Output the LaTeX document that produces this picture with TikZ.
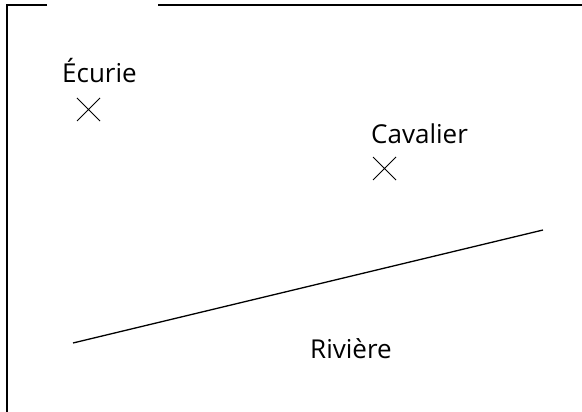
\documentclass[tikz,border=0pt]{standalone}
\usepackage{fontspec}
\setmainfont{Open Sans}
\usetikzlibrary{shapes.misc}
\begin{document}
\begin{tikzpicture}[%%
  x=1pt,y=-1pt,%%
  frameStyle/.style={-,line width=1.4pt},%%
  lineStyle/.style={-,line width=1.3pt},%%
  crossStyle/.style={cross out,draw,line width=1pt,minimum size=22pt,inner sep=0pt},%%
  labelStyle/.style={font=\fontsize{26}{30}\selectfont,inner sep=0pt,anchor=base west},%%
]
%%
%%
\useasboundingbox (0,0) rectangle (582,412);
%% The frame, open on top.
\coordinate (cornerNW) at (7,5);
\coordinate (cornerSW) at (7,412);
\coordinate (gapW) at (47,5);
\coordinate (gapE) at (158,5);
\coordinate (cornerNE) at (582,5);
\draw[frameStyle] (gapW) -- (cornerNW) -- (cornerSW);
\draw[frameStyle] (gapE) -- (cornerNE);
%% The stable.
\node[crossStyle] (ecurie) at (88.5,109.5) {};
\node[labelStyle] (ecurieLabel) at (62,83) {Écurie};
%% The rider.
\node[crossStyle] (cavalier) at (384.5,168.5) {};
\node[labelStyle] (cavalierLabel) at (371,143) {Cavalier};
%% The river.
\coordinate (riverW) at (73,343);
\coordinate (riverE) at (543,230);
\draw[lineStyle] (riverW) -- (riverE);
\node[labelStyle] (riviereLabel) at (310,358) {Rivière};
\end{tikzpicture}
\end{document}
